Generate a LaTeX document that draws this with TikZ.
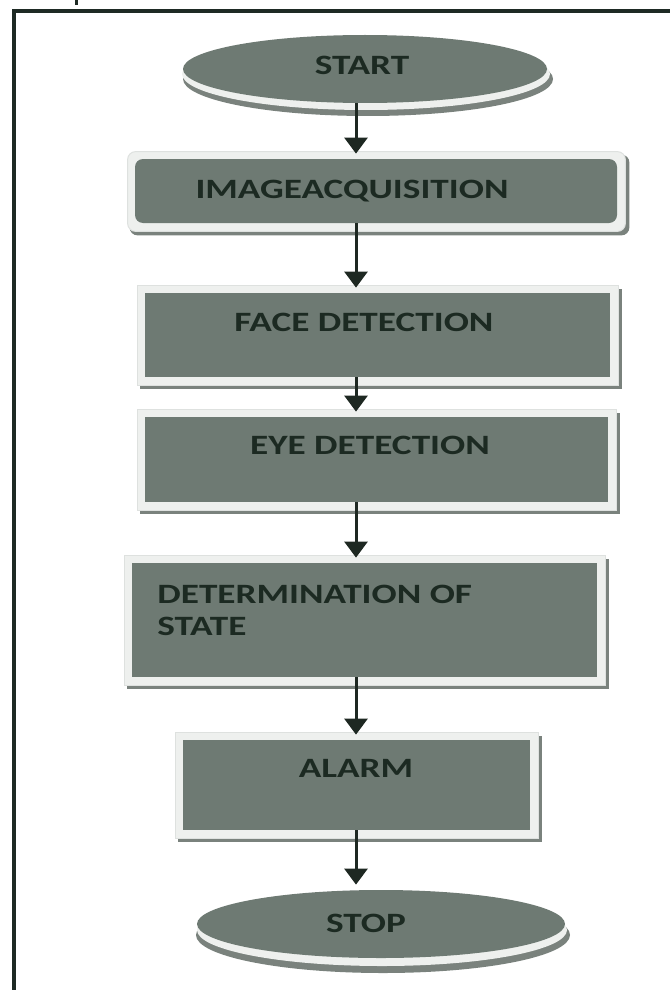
\documentclass[tikz,border=0pt]{standalone}
\usepackage{fontspec}
\setmainfont{Carlito}
\usetikzlibrary{arrows.meta,calc,fit,shapes.geometric,backgrounds}

\definecolor{boxfill}{RGB}{110,122,115}
\definecolor{textc}{RGB}{28,42,34}
\definecolor{framec}{RGB}{30,42,36}
\definecolor{lightc}{RGB}{238,240,238}
\definecolor{edgec}{RGB}{222,225,223}
\definecolor{shadc}{RGB}{122,130,125}
\definecolor{arrowc}{RGB}{30,40,34}

\tikzset{
  stepbox/.style={fill=boxfill, inner sep=0pt, fit={#1}},
  terminal/.style={ellipse, fill=boxfill, inner sep=0pt},
  lbl/.style={text=textc, font=\bfseries\fontsize{14}{16}\selectfont, inner sep=0pt},
  arr/.style={draw=arrowc, line width=1.5pt,
    -{Triangle[width=11.5pt,length=8pt]}, shorten >=2.5pt},
}
\newcommand{\wide}[1]{\scalebox{1.33}[1]{#1}}
% light raised rim with a darker edge below and to the right
\newcommand{\bevel}[2][]{%
  \fill[shadc,#1] ($(#2.north west)+(-5,-4)$) rectangle ($(#2.south east)+(12,12)$);
  \fill[lightc,draw=edgec,line width=0.5pt,#1] ($(#2.north west)+(-7,-7)$) rectangle ($(#2.south east)+(8,8)$);}

\begin{document}
\begin{tikzpicture}[x=0.5pt,y=-0.5pt]
\useasboundingbox (0,0) rectangle (669,990);

% page frame
\draw[framec, line width=2pt] (14,995) -- (14,11) -- (675,11);
\draw[framec, line width=1.5pt] (76,0) -- (76,5);

% process boxes and terminals
\node[terminal, minimum width=182pt, minimum height=34pt] (start) at (365,69) {};
\node[stepbox={(135,159) (617,223)}, rounded corners=4pt] (img) {};
\node[stepbox={(145,293) (610,377)}] (face) {};
\node[stepbox={(145,417) (608,502)}] (eye) {};
\node[stepbox={(132,563) (597,677)}] (state) {};
\node[stepbox={(183,740) (530,830)}] (alarm) {};
\node[terminal, minimum width=184pt, minimum height=34pt] (stop) at (381,924) {};

\begin{scope}[on background layer]
  \fill[shadc] ($(start.center)+(3,10)$) ellipse [x radius=92.5pt, y radius=18.5pt];
  \fill[lightc] ($(start.center)+(1,5)$) ellipse [x radius=92pt, y radius=18pt];
  \bevel[rounded corners=4pt]{img}
  \bevel{face}
  \bevel{eye}
  \bevel{state}
  \bevel{alarm}
  \fill[shadc] ($(stop.center)+(2,11)$) ellipse [x radius=93.5pt, y radius=19pt];
  \fill[lightc] ($(stop.center)+(1,6)$) ellipse [x radius=92.5pt, y radius=18pt];
\end{scope}

% labels
\node[lbl, anchor=base] (t-start) at (362,75) {\wide{START}};
\node[lbl, anchor=base] (t-img) at (352,198) {\wide{IMAGEACQUISITION}};
\node[lbl, anchor=base] (t-face) at (364,331) {\wide{FACE DETECTION}};
\node[lbl, anchor=base] (t-eye) at (370,454) {\wide{EYE DETECTION}};
\node[lbl, anchor=west] (t-state) at (157,613)
  {\wide{\begin{tabular}{@{}l@{}}DETERMINATION OF\\STATE\end{tabular}}};
\node[lbl, anchor=base] (t-alarm) at (356,777) {\wide{ALARM}};
\node[lbl, anchor=base] (t-stop) at (366,932) {\wide{STOP}};

% flow
\coordinate (spine) at (356,0);
\draw[arr] (start.south -| spine) -- (img.north -| spine);
\draw[arr] (img.south -| spine) -- (face.north -| spine);
\draw[arr] (face.south -| spine) -- (eye.north -| spine);
\draw[arr] (eye.south -| spine) -- (state.north -| spine);
\draw[arr] (state.south -| spine) -- (alarm.north -| spine);
\draw[arr] (alarm.south -| spine) -- (stop.north -| spine);
\end{tikzpicture}
\end{document}
